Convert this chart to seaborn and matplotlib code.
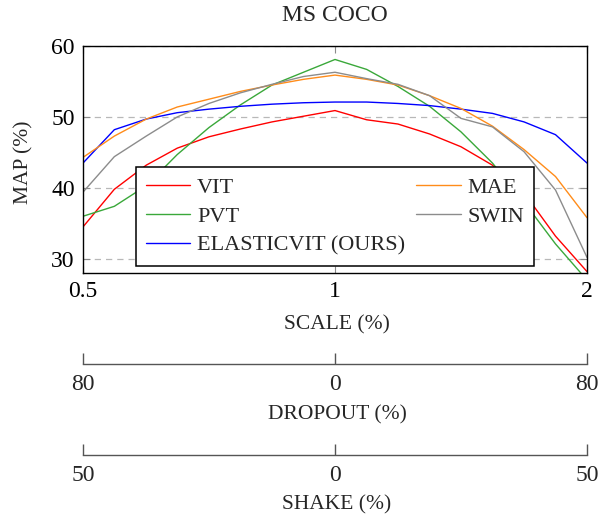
import numpy as np
import pandas as pd
import matplotlib
matplotlib.use("Agg")
import matplotlib.pyplot as plt
import seaborn as sns
from matplotlib.ticker import NullLocator

# ---------------- data ----------------
scale = [0.5, 0.545, 0.595, 0.648, 0.707, 0.771, 0.841, 0.917, 1.0,
         1.091, 1.189, 1.297, 1.414, 1.542, 1.682, 1.834, 2.0]
vit = [34.5, 39.8, 43.2, 45.6, 47.2, 48.3, 49.3, 50.1, 50.9,
       49.6, 49.0, 47.6, 45.8, 43.2, 39.3, 33.2, 28.2]
pvt = [36.0, 37.4, 40.3, 44.7, 48.5, 51.7, 54.5, 56.3, 58.1,
       56.7, 54.3, 51.5, 47.9, 43.5, 38.0, 32.1, 27.0]
elasticvit = [43.5, 48.2, 49.7, 50.6, 51.1, 51.5, 51.8, 52.0, 52.1,
              52.1, 51.9, 51.6, 51.1, 50.5, 49.3, 47.5, 43.5]
mae = [44.3, 47.3, 49.7, 51.4, 52.5, 53.6, 54.5, 55.3, 55.9,
       55.3, 54.5, 53.0, 51.2, 48.7, 45.4, 41.6, 35.8]
swin = [39.4, 44.4, 47.3, 50.0, 51.9, 53.4, 54.6, 55.7, 56.3,
        55.4, 54.6, 53.0, 49.8, 48.6, 45.1, 39.7, 30.2]

model_names = ["VIT", "PVT", "ELASTICVIT (OURS)", "MAE", "SWIN"]
model_values = [vit, pvt, elasticvit, mae, swin]
model_colors = ["#ff0000", "#3aa83a", "#0000ff", "#ff8c1a", "#8c8c8c"]

scale_ticks = [0.5, 1, 2]
scale_ticklabels = ["0.5", "1", "2"]
dropout_ticks = [-80, 0, 80]
dropout_ticklabels = ["80", "0", "80"]
shake_ticks = [-50, 0, 50]
shake_ticklabels = ["50", "0", "50"]
yticks = [30, 40, 50, 60]

title = "MS COCO"
ylabel = "MAP (%)"
xlabel = "SCALE (%)"
dropout_label = "DROPOUT (%)"
shake_label = "SHAKE (%)"

rows = []
for name, vals in zip(model_names, model_values):
    for s, v in zip(scale, vals):
        rows.append({"scale": s, "map": v, "model": name})
df = pd.DataFrame(rows)

# ---------------- style ----------------
sns.set_style("white")
plt.rcParams["font.family"] = ["Liberation Serif", "DejaVu Serif"]

W, H = 609, 518
fig = plt.figure(figsize=(W / 100, H / 100), dpi=100)

def fx(px):
    return px / W

def fy(py):
    return 1 - py / H

TICK_FS = 17
LABEL_FS = 15.5
LEG_FS = 16

ax = fig.add_axes([fx(83), fy(273), fx(587) - fx(83), fy(46) - fy(273)])

palette = dict(zip(model_names, model_colors))
sns.lineplot(data=df, x="scale", y="map", hue="model", hue_order=model_names,
             palette=palette, linewidth=1.0, errorbar=None, legend=False, ax=ax)

ax.set_xscale("log", base=2)
ax.set_xlim(0.5, 2)
ax.set_ylim(28, 60)
ax.set_xticks(scale_ticks)
ax.set_xticklabels(scale_ticklabels)
ax.xaxis.set_minor_locator(NullLocator())
ax.set_yticks(yticks)
ax.yaxis.grid(True, linestyle=(0, (5, 4)), color="#b8b8b8", linewidth=0.9)
ax.xaxis.grid(False)
ax.tick_params(axis="both", which="major", direction="in", length=5, width=0.8,
               color="#8a8a8a", top=True, right=True, bottom=True, left=True,
               labelsize=TICK_FS, pad=6, labelcolor="black")
for sp in ax.spines.values():
    sp.set_color("black")
    sp.set_linewidth(1.0)

ax.set_title(title, fontsize=17, pad=18)
ax.set_xlabel(xlabel, fontsize=LABEL_FS)
ax.xaxis.set_label_coords(fx(337), fy(325), transform=fig.transFigure)
ax.xaxis.label.set_va("center")
ax.set_ylabel(ylabel, fontsize=LABEL_FS)
ax.yaxis.set_label_coords(fx(24), fy(162), transform=fig.transFigure)
ax.yaxis.label.set_va("center")

handles = list(ax.lines[:len(model_names)])
leg = ax.legend(handles, model_names, ncol=2, mode="expand",
                loc="lower left", bbox_to_anchor=(0.105, 0.031, 0.79, 0.45),
                borderaxespad=0, fontsize=LEG_FS, handlelength=2.0,
                handletextpad=0.3, labelspacing=0.38, borderpad=0.45,
                columnspacing=0.5, frameon=True, fancybox=False,
                framealpha=1, edgecolor="black")
leg.get_frame().set_linewidth(1.1)

# ---------------- secondary scales ----------------
def extra_axis(py_line, lim, ticks, labels, label, py_label):
    a = fig.add_axes([fx(83), fy(py_line), fx(587) - fx(83), 0.001])
    a.set_xlim(*lim)
    a.set_xticks(ticks)
    a.set_xticklabels(labels)
    a.set_yticks([])
    a.patch.set_visible(False)
    for k in ("left", "right", "top"):
        a.spines[k].set_visible(False)
    a.spines["bottom"].set_color("#555555")
    a.spines["bottom"].set_linewidth(1.0)
    a.tick_params(axis="x", direction="in", length=8, width=1.0, bottom=True,
                  color="#555555", labelsize=TICK_FS, pad=7)
    a.set_xlabel(label, fontsize=LABEL_FS)
    a.xaxis.set_label_coords(fx(337), fy(py_label), transform=fig.transFigure)
    a.xaxis.label.set_va("center")
    return a

extra_axis(364, (-80, 80), dropout_ticks, dropout_ticklabels, dropout_label, 415)
extra_axis(455, (-50, 50), shake_ticks, shake_ticklabels, shake_label, 505)

fig.savefig("out.png", dpi=100)
